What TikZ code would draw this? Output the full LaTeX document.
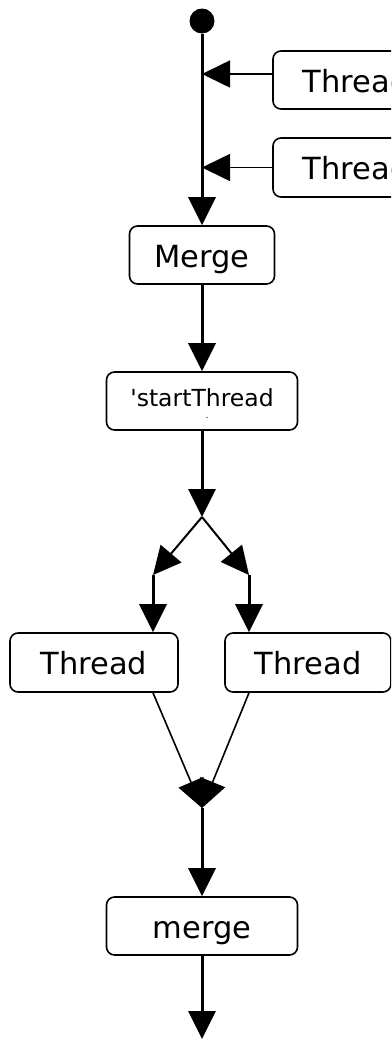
\documentclass[tikz,border=0pt]{standalone}
\usepackage{fontspec}
\setmainfont{DejaVu Sans}
% same face without the TeX quote mapping, so ' stays a straight quote
\newfontfamily\plainfont{DejaVu Sans}
\usetikzlibrary{arrows.meta}
\begin{document}
\begin{tikzpicture}[x=1pt,y=-1pt,
  box/.style={draw, line width=1.6pt, rounded corners=8pt, inner sep=0pt,
    font=\fontsize{30.5}{36}\selectfont, text height=24.5pt, text depth=0pt},
  smallbox/.style={box, font=\plainfont\fontsize{23.5}{28}\selectfont, text height=10pt},
  tip/.style={-{Triangle[length=28pt,width=27pt]}},
  flow/.style={tip, line width=3pt},
  branch/.style={tip, line width=2pt},
  feed/.style={tip, line width=1.6pt},
]
\useasboundingbox (0,0) rectangle (391,1039);
\clip (0,0) rectangle (391,1039);

% initial state
\node[circle, fill, inner sep=0pt, minimum size=25pt] (start) at (202,21) {};

% incoming threads on the right
\node[box, minimum width=166pt, minimum height=58pt] (t1) at (356,80) {Thread};
\node[box, minimum width=166pt, minimum height=59pt] (t2) at (356,167.5) {Thread};
\coordinate (j1) at (202,74);
\coordinate (j2) at (202,167.5);

% main flow
\node[box, minimum width=145pt, minimum height=58pt] (merge1) at (202,255) {Merge};
\node[smallbox, minimum width=191pt, minimum height=58pt] (st) at (202,401) {'startThread};
\node[font=\fontsize{9}{9}\selectfont, inner sep=0pt] (stdot) at (207,418) {.};

% fork
\coordinate (fork) at (202,517);
\coordinate (fl) at (153,575);
\coordinate (fr) at (249,575);
\node[box, minimum width=168pt, minimum height=59pt] (tl) at (94,662.5) {Thread};
\node[box, minimum width=166pt, minimum height=59pt] (tr) at (308,662.5) {Thread};

% join
\coordinate (join) at (202,808);
\node[box, minimum width=191pt, minimum height=58pt] (merge2) at (202,926) {merge};
\coordinate (end) at (202,1039);

% connectors
\draw[flow] (start) -- (merge1);
\draw[feed] ([yshift=6pt]t1.west) -- (j1);
\draw[feed] (t2.west) -- (j2);
\draw[flow] (merge1) -- (st);
\draw[flow] (st) -- (fork);
\draw[branch] (fork) -- (fl);
\draw[branch] (fork) -- (fr);
\draw[flow] (fl) -- (fl |- tl.north);
\draw[flow] (fr) -- (fr |- tr.north);
\draw[feed] (tl.south -| fl) -- (join);
\draw[feed] (tr.south -| fr) -- (join);
\draw[flow] (join) -- (merge2);
\draw[flow] (merge2) -- (end);
\end{tikzpicture}
\end{document}
